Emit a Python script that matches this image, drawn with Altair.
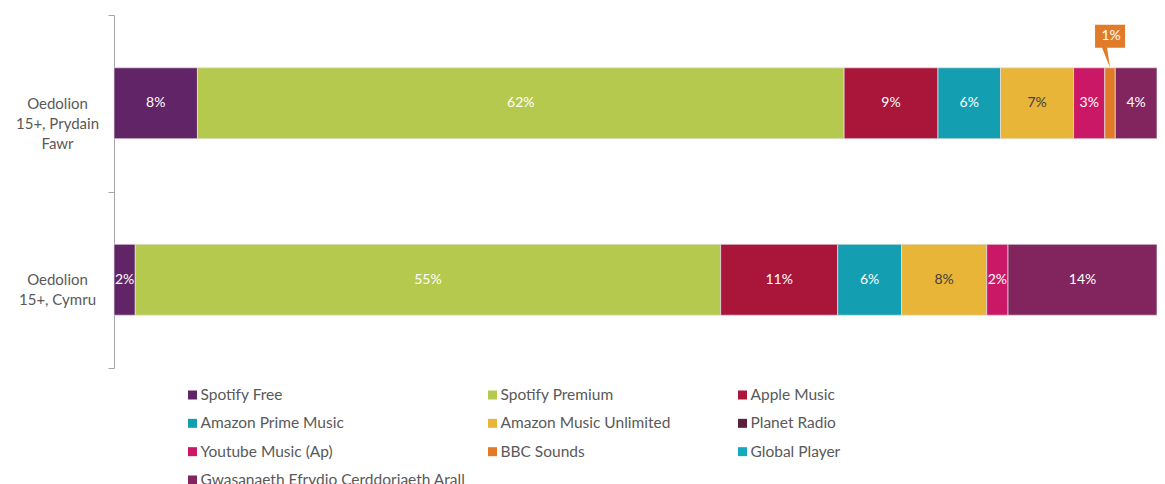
import json
import altair as alt
import pandas as pd

categories = ["Oedolion 15+, Prydain Fawr", "Oedolion 15+, Cymru"]
category_lines = [["Oedolion", "15+, Prydain", "Fawr"], ["Oedolion", "15+, Cymru"]]
services = [
    "Spotify Free", "Spotify Premium", "Apple Music",
    "Amazon Prime Music", "Amazon Music Unlimited", "Planet Radio",
    "Youtube Music (Ap)", "BBC Sounds", "Global Player",
    "Gwasanaeth Efrydio Cerddoriaeth Arall",
]
colors = [
    "#612466", "#B5C94F", "#AA163A",
    "#139EB1", "#E8B538", "#5C1F3E",
    "#CB1866", "#E27B27", "#14A9BE",
    "#82245D",
]
gb_values = [8, 62, 9, 6, 7, 0, 3, 1, 0, 4]
wales_values = [2, 55, 11, 6, 8, 0, 2, 0, 0, 14]

rows = []
for cat, vals in zip(categories, [gb_values, wales_values]):
    for i, (s, v) in enumerate(zip(services, vals)):
        rows.append({"cat": cat, "service": s, "order": i, "value": v})
df = pd.DataFrame(rows)

legend_df = pd.DataFrame({
    "service": services,
    "col": [i % 3 for i in range(len(services))],
    "row": [i // 3 for i in range(len(services))],
})

label_expr = " : ".join(
    f"datum.value == {json.dumps(c)} ? {json.dumps(l)}" for c, l in zip(categories, category_lines)
) + " : datum.label"

cscale = alt.Scale(domain=services, range=colors)
xscale = alt.Scale(domain=[0, 1], nice=False, zero=True)
yscale = alt.Scale(domain=categories, paddingInner=0, paddingOuter=0)

yaxis = alt.Axis(
    title=None, grid=False, domainColor="#A6A6A6", tickColor="#A6A6A6",
    tickSize=6, tickBand="extent", labelExpr=label_expr, labelAlign="center",
    labelBaseline="middle", labelPadding=51, labelFont="Lato", labelFontSize=15,
    labelColor="#595959", labelLineHeight=20,
)

base = (
    alt.Chart(df)
    .transform_filter("datum.value > 0")
    .transform_joinaggregate(total="sum(value)", groupby=["cat"])
    .transform_calculate(share="datum.value / datum.total")
    .transform_stack(stack="share", groupby=["cat"], as_=["x0", "x1"],
                     sort=[alt.SortField("order", "ascending")])
    .transform_calculate(mid="(datum.x0 + datum.x1) / 2", label="datum.value + '%'")
)

bars = base.mark_bar(size=71, stroke="#E0E0E0", strokeWidth=0.75).encode(
    x=alt.X("x0:Q", scale=xscale, axis=None),
    x2="x1:Q",
    y=alt.Y("cat:N", scale=yscale, axis=yaxis, sort=categories),
    color=alt.Color("service:N", scale=cscale, legend=None),
)

labels = base.transform_filter("datum.share >= 0.015").mark_text(
    font="Lato", fontSize=14, baseline="middle", align="center"
).encode(
    x=alt.X("mid:Q", scale=xscale, axis=None),
    y=alt.Y("cat:N", scale=yscale, axis=None, sort=categories),
    text="label:N",
    color=alt.condition("datum.service == 'Amazon Music Unlimited'",
                        alt.value("#404040"), alt.value("white")),
)

callout_path = "M-1.5,-4.3 L1.5,-4.3 L1.5,-2 L-0.3,-2 L0,0 L-0.8,-2 L-1.5,-2 Z"
callout = base.transform_filter("datum.share < 0.015").mark_point(
    shape=callout_path, size=400, filled=True, opacity=1, strokeWidth=0, yOffset=-35.5
).encode(
    x=alt.X("mid:Q", scale=xscale, axis=None),
    y=alt.Y("cat:N", scale=yscale, axis=None, sort=categories),
    color=alt.Color("service:N", scale=cscale, legend=None),
)
callout_text = base.transform_filter("datum.share < 0.015").mark_text(
    font="Lato", fontSize=14, color="white", baseline="middle", align="center",
    yOffset=-67, xOffset=1,
).encode(
    x=alt.X("mid:Q", scale=xscale, axis=None),
    y=alt.Y("cat:N", scale=yscale, axis=None, sort=categories),
    text="label:N",
)

lx = alt.Scale(domain=[0, 1, 2], range=[78.5, 378.5, 628.5])
ly = alt.Scale(domain=[0, 3], range=[380, 465])
leg_sq = alt.Chart(legend_df).mark_square(size=81, opacity=1, filled=True).encode(
    x=alt.X("col:Q", scale=lx, axis=None),
    y=alt.Y("row:Q", scale=ly, axis=None),
    color=alt.Color("service:N", scale=cscale, legend=None),
)
leg_txt = alt.Chart(legend_df).mark_text(
    font="Lato", fontSize=15.5, color="#595959", align="left", baseline="middle", dx=8
).encode(
    x=alt.X("col:Q", scale=lx, axis=None),
    y=alt.Y("row:Q", scale=ly, axis=None),
    text="service:N",
)

chart = (
    alt.layer(bars, labels, callout, callout_text, leg_sq, leg_txt)
    .resolve_scale(x="independent", y="independent")
    .properties(
        width=1043, height=353,
        autosize=alt.AutoSizeParams(type="none"),
        padding={"left": 106, "top": 7, "right": 0, "bottom": 116},
    )
    .configure_view(stroke=None)
)

chart.save("out.html", embed_options={"renderer": "svg", "actions": False})
